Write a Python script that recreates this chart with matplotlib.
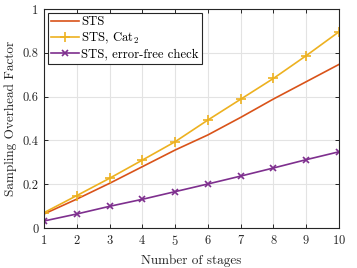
import matplotlib
matplotlib.use("Agg")
import matplotlib.pyplot as plt

plt.rcParams['font.family'] = 'serif'
plt.rcParams['font.serif'] = ['cmr10', 'DejaVu Serif']
plt.rcParams['mathtext.fontset'] = 'cm'
plt.rcParams['axes.formatter.use_mathtext'] = True

stages = [1, 2, 3, 4, 5, 6, 7, 8, 9, 10]
sts = [0.064, 0.132, 0.204, 0.280, 0.356, 0.425, 0.505, 0.589, 0.668, 0.747]
sts_cat2 = [0.070, 0.148, 0.227, 0.310, 0.394, 0.493, 0.588, 0.683, 0.787, 0.896]
sts_ef = [0.032, 0.064, 0.099, 0.131, 0.166, 0.201, 0.237, 0.274, 0.312, 0.348]

labels = ['STS', r'STS, Cat$_2$', 'STS, error-free check']
xticks = [1, 2, 3, 4, 5, 6, 7, 8, 9, 10]
yticks = [0, 0.2, 0.4, 0.6, 0.8, 1]
yticklabels = ['0', '0.2', '0.4', '0.6', '0.8', '1']

fig = plt.figure(figsize=(3.57, 2.68), dpi=100)
ax = fig.add_axes([44/357, 1 - 228/268, (339-44)/357, (228-9)/268])

ax.plot(stages, sts, color='#D95319', lw=1.2, label=labels[0])
ax.plot(stages, sts_cat2, color='#EDB120', lw=1.2, marker='+', ms=7, mew=1.2, label=labels[1])
ax.plot(stages, sts_ef, color='#7E2F8E', lw=1.2, marker='x', ms=5, mew=1.2, label=labels[2])

ax.set_xlim(1, 10)
ax.set_ylim(0, 1)
ax.set_xticks(xticks)
ax.set_yticks(yticks)
ax.set_yticklabels(yticklabels)
ax.grid(True, color='#e3e3e3', lw=0.8)
ax.set_axisbelow(True)
ax.tick_params(direction='in', top=True, right=True, length=3, width=0.7,
               colors='#262626', labelsize=9, labelcolor='#262626', pad=4)
for s in ax.spines.values():
    s.set_color('#262626')
    s.set_linewidth(0.8)

ax.set_xlabel('Number of stages', fontsize=9.5, color='#262626', labelpad=5)
ax.set_ylabel('Sampling Overhead Factor', fontsize=9.5, color='#262626', labelpad=4)

leg = ax.legend(loc='upper left', fontsize=9.2, frameon=True, fancybox=False,
                edgecolor='#262626', framealpha=1, borderpad=0.25, labelspacing=0.2,
                handlelength=2.2, handletextpad=0.15, borderaxespad=0.3)
leg.get_frame().set_linewidth(0.8)

fig.savefig('out.png', dpi=100)
